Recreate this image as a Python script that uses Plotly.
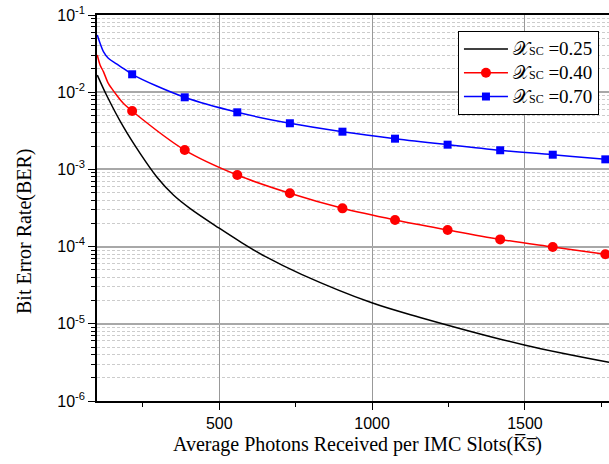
import plotly.graph_objects as go

# ---------------- data ----------------
x_black = [101, 131, 186, 241, 295, 350, 404, 500, 568, 650, 769, 999, 1157, 1498, 1775]
y_black = [0.0167, 0.0092, 0.00357, 0.00161, 8.04e-4, 4.66e-4, 3.13e-4, 1.73e-4,
           1.16e-4, 7.46e-5, 4.37e-5, 1.87e-5, 1.21e-5, 5.31e-6, 3.17e-6]

x_red_line = [101, 110, 121, 137, 148, 164, 186, 215, 387, 559, 731, 903, 1075, 1247, 1419, 1591, 1763, 1776]
y_red_line = [0.0303, 0.0225, 0.01845, 0.0130, 0.01122, 0.0092, 0.00718, 0.00570, 0.00178, 8.45e-4,
              4.90e-4, 3.13e-4, 2.21e-4, 1.64e-4, 1.24e-4, 9.89e-5, 7.95e-5, 7.8e-5]

x_blue_line = [101, 110, 121, 137, 164, 186, 215, 387, 559, 731, 903, 1075, 1247, 1419, 1591, 1763, 1776]
y_blue_line = [0.0551, 0.0430, 0.0335, 0.0275, 0.0232, 0.0204, 0.01706, 0.00859, 0.00549, 0.00396,
               0.00308, 0.00250, 0.00209, 0.00177, 0.00155, 0.00135, 0.00134]

x_markers = [215, 387, 559, 731, 903, 1075, 1247, 1419, 1591, 1763]
y_red_markers = [0.00570, 0.00178, 8.45e-4, 4.90e-4, 3.13e-4, 2.21e-4, 1.64e-4, 1.24e-4, 9.89e-5, 7.95e-5]
y_blue_markers = [0.01706, 0.00859, 0.00549, 0.00396, 0.00308, 0.00250, 0.00209, 0.00177, 0.00155, 0.00135]

series_names = ["0.25", "0.40", "0.70"]
x_tick_vals = [500, 1000, 1500]
y_tick_vals = [1e-6, 1e-5, 1e-4, 1e-3, 1e-2, 1e-1]
y_tick_text = ["10<sup>-6</sup>", "10<sup>-5</sup>", "10<sup>-4</sup>", "10<sup>-3</sup>",
               "10<sup>-2</sup>", "10<sup>-1</sup>"]

SERIF = "Liberation Serif, Times New Roman, serif"
SANS = "Liberation Sans, Arial, sans-serif"


def leg_name(v):
    return ("<span style='font-size:19px'>𝒳</span><span style='font-size:12px'>SC</span>"
            "<span style='font-size:19px'> =" + v + "</span>")


fig = go.Figure()

# lines
fig.add_trace(go.Scatter(x=x_black, y=y_black, mode="lines", line=dict(color="black", width=1.5, shape="spline"),
                         showlegend=False, hoverinfo="skip"))
fig.add_trace(go.Scatter(x=x_red_line, y=y_red_line, mode="lines", line=dict(color="#ff0000", width=1.5, shape="spline"),
                         showlegend=False, hoverinfo="skip"))
fig.add_trace(go.Scatter(x=x_blue_line, y=y_blue_line, mode="lines", line=dict(color="#0000ff", width=1.5, shape="spline"),
                         showlegend=False, hoverinfo="skip"))
# markers
fig.add_trace(go.Scatter(x=x_markers, y=y_red_markers, mode="markers",
                         marker=dict(symbol="circle", size=10, color="#ff0000"), showlegend=False))
fig.add_trace(go.Scatter(x=x_markers, y=y_blue_markers, mode="markers",
                         marker=dict(symbol="square", size=8, color="#0000ff"), showlegend=False))
# legend entries
fig.add_trace(go.Scatter(x=[None], y=[None], mode="lines", line=dict(color="black", width=1.5),
                         name=leg_name(series_names[0])))
fig.add_trace(go.Scatter(x=[None], y=[None], mode="lines+markers", line=dict(color="#ff0000", width=1.5),
                         marker=dict(symbol="circle", size=10, color="#ff0000"), name=leg_name(series_names[1])))
fig.add_trace(go.Scatter(x=[None], y=[None], mode="lines+markers", line=dict(color="#0000ff", width=1.5),
                         marker=dict(symbol="square", size=8, color="#0000ff"), name=leg_name(series_names[2])))

minor_y = [d * 10.0 ** k for k in range(-6, -1) for d in range(2, 10)]

fig.update_layout(
    width=609, height=464,
    margin=dict(l=97, r=0, t=15, b=63, autoexpand=False),
    paper_bgcolor="white", plot_bgcolor="white",
    showlegend=True,
    legend=dict(x=0.705, y=0.9585, xanchor="left", yanchor="top",
                bgcolor="white", bordercolor="black", borderwidth=1,
                font=dict(family=SERIF, size=16, color="black"),
                tracegroupgap=0, itemwidth=44),
    xaxis=dict(range=[100, 1775], tickmode="array", tickvals=x_tick_vals, automargin=False,
               ticks="outside", ticklen=7, tickwidth=1.2, tickcolor="black",
               showline=True, linecolor="black", linewidth=1.5, mirror=True,
               showgrid=True, gridcolor="#999999", gridwidth=1,
               zeroline=False,
               tickfont=dict(family=SANS, size=16, color="black"),
               minor=dict(tickmode="array", tickvals=[250, 750, 1250, 1750], ticks="outside",
                          ticklen=4, tickcolor="black", showgrid=False)),
    yaxis=dict(type="log", range=[-6, -1], tickmode="array", tickvals=y_tick_vals, ticktext=y_tick_text,
               automargin=False,
               ticks="outside", ticklen=7, tickwidth=1.2, tickcolor="black",
               showline=True, linecolor="black", linewidth=1.5,
               showgrid=True, gridcolor="#a8a8a8", gridwidth=1.5,
               zeroline=False,
               tickfont=dict(family=SANS, size=16, color="black"),
               minor=dict(tickmode="array", tickvals=minor_y, ticks="outside", ticklen=4,
                          tickcolor="black", showgrid=True, gridcolor="#cccccc", gridwidth=1,
                          griddash="3px,2px")),
    annotations=[
        dict(text="Average Photons Received per IMC Slots(K\u0305s\u0305)", xref="paper", yref="paper",
             x=0.5088, y=-0.1114, xanchor="center", yanchor="middle", showarrow=False,
             font=dict(family=SERIF, size=20, color="black")),
        dict(text="Bit Error Rate(BER)", xref="paper", yref="paper",
             x=-0.1426, y=0.4404, xanchor="center", yanchor="middle", textangle=-90, showarrow=False,
             font=dict(family=SERIF, size=20, color="black")),
    ],
)

# remove the browser's default 8px body margin so the 609x464 figure fills the window
fig.write_html("out.html", config={"displayModeBar": False},
               post_script="document.body.style.margin='0px';")
